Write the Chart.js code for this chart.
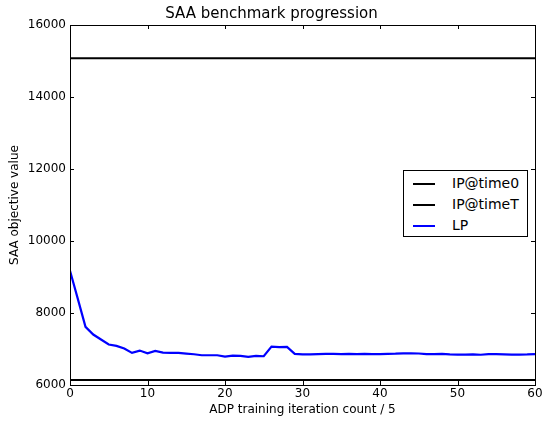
<!DOCTYPE html>
<html>
<head>
<meta charset="utf-8">
<script src="https://cdn.jsdelivr.net/npm/chart.js@4"></script>
<style>
  html, body { margin: 0; padding: 0; background: #fff; }
  #wrap { position: relative; width: 543px; height: 421px; }
  #legend {
    position: absolute; left: 403px; top: 170px; width: 125px; height: 67px;
    border: 1px solid #000; background: #fff;
    font-family: "DejaVu Sans", sans-serif; font-size: 14px; color: #000;
    box-sizing: border-box; padding: 2px 0 0 9px;
  }
  #legend div { height: 21px; line-height: 21px; white-space: nowrap; }
  #legend span.swatch { display: inline-block; width: 22px; height: 2px; vertical-align: middle; margin-right: 17px; }
</style>
</head>
<body>
<div id="wrap">
  <canvas id="chart" width="543" height="421"></canvas>
  <div id="legend"></div>
</div>
<script>
const iterations = [];
for (let i = 0; i <= 60; i++) iterations.push(i);

const lpValues = [
  9175, 8400, 7616, 7402, 7263, 7124, 7087, 7012, 6891, 6956,
  6882, 6947, 6900, 6891, 6891, 6873, 6854, 6826, 6826, 6826,
  6789, 6817, 6808, 6780, 6808, 6799, 7068, 7050, 7059, 6864,
  6850, 6850, 6860, 6865, 6865, 6855, 6865, 6860, 6865, 6855,
  6860, 6865, 6870, 6880, 6880, 6875, 6860, 6855, 6865, 6850,
  6845, 6845, 6850, 6840, 6860, 6855, 6850, 6845, 6845, 6850,
  6860
];

const ipTime0 = 15075;
const ipTimeT = 6140;

const xTicks = [0, 10, 20, 30, 40, 50, 60];
const yTicks = [6000, 8000, 10000, 12000, 14000, 16000];

const seriesNames = ["IP@time0", "IP@timeT", "LP"];
const seriesColors = ["#000000", "#000000", "#0000ff"];

// matplotlib style frame + inward ticks on all four sides
const frameTicks = {
  id: "frameTicks",
  afterDatasetsDraw(chart) {
    const { ctx, chartArea: a, scales } = chart;
    ctx.save();
    ctx.strokeStyle = "#000";
    ctx.lineWidth = 1;
    ctx.beginPath();
    xTicks.forEach(v => {
      const x = Math.round(scales.x.getPixelForValue(v)) + 0.5;
      ctx.moveTo(x, a.bottom); ctx.lineTo(x, a.bottom - 4);
      ctx.moveTo(x, a.top); ctx.lineTo(x, a.top + 4);
    });
    yTicks.forEach(v => {
      const y = Math.round(scales.y.getPixelForValue(v)) + 0.5;
      ctx.moveTo(a.left, y); ctx.lineTo(a.left + 4, y);
      ctx.moveTo(a.right, y); ctx.lineTo(a.right - 4, y);
    });
    ctx.stroke();
    ctx.strokeRect(Math.round(a.left) + 0.5, Math.round(a.top) + 0.5,
      Math.round(a.right - a.left), Math.round(a.bottom - a.top));
    ctx.restore();
  }
};

const font = "'DejaVu Sans', sans-serif";

new Chart(document.getElementById("chart"), {
  type: "line",
  data: {
    datasets: [
      {
        label: seriesNames[0],
        data: [{ x: 0, y: ipTime0 }, { x: 60, y: ipTime0 }],
        borderColor: seriesColors[0], borderWidth: 2, pointRadius: 0
      },
      {
        label: seriesNames[1],
        data: [{ x: 0, y: ipTimeT }, { x: 60, y: ipTimeT }],
        borderColor: seriesColors[1], borderWidth: 2, pointRadius: 0
      },
      {
        label: seriesNames[2],
        data: iterations.map((x, i) => ({ x: x, y: lpValues[i] })),
        borderColor: seriesColors[2], borderWidth: 2.2, pointRadius: 0, tension: 0
      }
    ]
  },
  options: {
    responsive: false,
    animation: false,
    layout: { padding: { left: 0, right: 0, top: 0, bottom: 4 } },
    plugins: {
      legend: { display: false },
      tooltip: { enabled: false },
      title: {
        display: true,
        text: "SAA benchmark progression",
        color: "#000",
        font: { family: font, size: 15, weight: "normal" },
        padding: { top: 5, bottom: 2 }
      }
    },
    scales: {
      x: {
        type: "linear", min: 0, max: 60,
        afterBuildTicks: s => { s.ticks = xTicks.map(v => ({ value: v })); },
        afterFit: s => { s.height = 32; s.paddingRight = 8; s.paddingLeft = 0; },
        grid: { display: false, drawTicks: false },
        border: { display: false },
        ticks: { color: "#000", font: { family: font, size: 12 }, padding: 2, maxRotation: 0,
          callback: v => String(v) },
        title: {
          display: true, text: "ADP training iteration count / 5", color: "#000",
          font: { family: font, size: 12 }, padding: { top: 0, bottom: 0 }
        }
      },
      y: {
        type: "linear", min: 6000, max: 16000,
        afterBuildTicks: s => { s.ticks = yTicks.map(v => ({ value: v })); },
        afterFit: s => { s.width = 70; },
        grid: { display: false, drawTicks: false },
        border: { display: false },
        ticks: { color: "#000", font: { family: font, size: 12 }, padding: 4,
          callback: v => String(v) },
        title: {
          display: true, text: "SAA objective value", color: "#000",
          font: { family: font, size: 12 }, padding: { top: 8, bottom: 0 }
        }
      }
    }
  },
  plugins: [frameTicks]
});

// html legend
const legend = document.getElementById("legend");
seriesNames.forEach((name, i) => {
  const row = document.createElement("div");
  row.innerHTML = `<span class="swatch" style="background:${seriesColors[i]}"></span>${name}`;
  legend.appendChild(row);
});
</script>
</body>
</html>
